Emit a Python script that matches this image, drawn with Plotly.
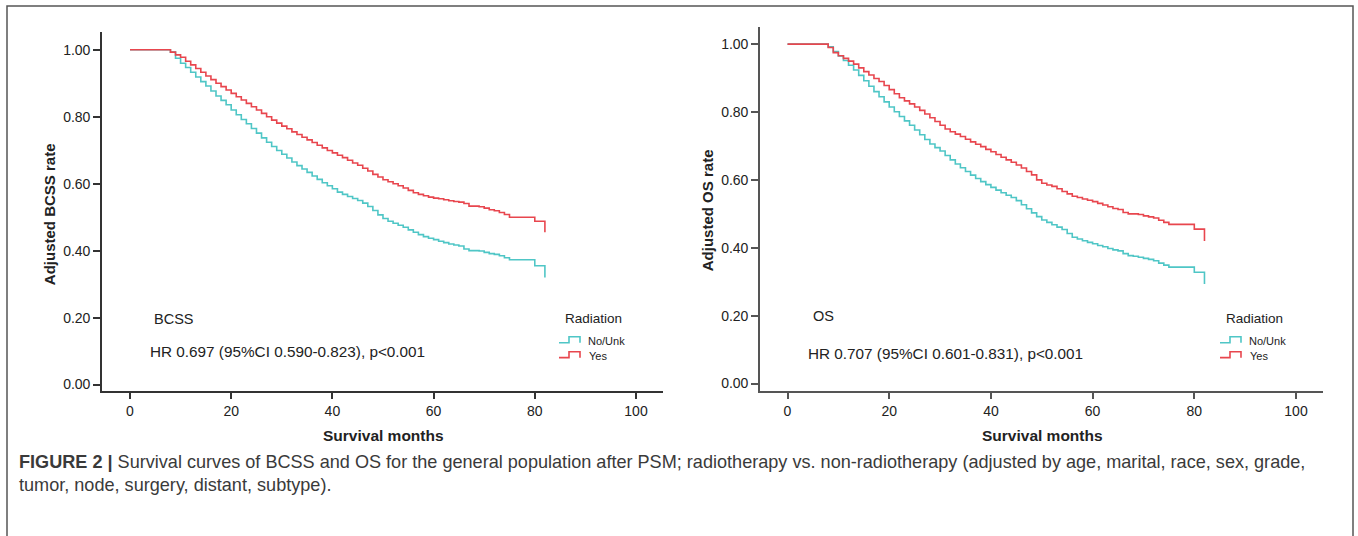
import plotly.graph_objects as go

W, H = 1358, 536

# ---- survival data (Kaplan-Meier style step curves) ----
months = [0] + list(range(7, 83))

bcss_no = [1.000, 1.000, 0.993, 0.975, 0.960, 0.947, 0.933, 0.919, 0.905, 0.892, 0.877,
           0.862, 0.849, 0.836, 0.820, 0.806, 0.792, 0.779, 0.765, 0.751, 0.737,
           0.724, 0.711, 0.699, 0.688, 0.677, 0.665, 0.654, 0.644, 0.634, 0.623,
           0.613, 0.603, 0.594, 0.585, 0.575, 0.568, 0.562, 0.556, 0.550, 0.542,
           0.532, 0.520, 0.507, 0.496, 0.488, 0.482, 0.476, 0.470, 0.462, 0.455,
           0.448, 0.442, 0.437, 0.433, 0.428, 0.424, 0.420, 0.417, 0.414, 0.405,
           0.400, 0.400, 0.399, 0.395, 0.391, 0.389, 0.385, 0.379, 0.373, 0.373,
           0.373, 0.373, 0.373, 0.355, 0.355, 0.320]

bcss_yes = [1.000, 1.000, 0.993, 0.985, 0.978, 0.966, 0.955, 0.944, 0.933, 0.922, 0.911,
            0.900, 0.890, 0.880, 0.870, 0.860, 0.850, 0.840, 0.830, 0.820, 0.810,
            0.800, 0.790, 0.781, 0.772, 0.764, 0.755, 0.747, 0.739, 0.731, 0.723,
            0.715, 0.707, 0.699, 0.692, 0.685, 0.678, 0.670, 0.662, 0.655, 0.646,
            0.638, 0.628, 0.620, 0.612, 0.606, 0.600, 0.594, 0.587, 0.580, 0.573,
            0.568, 0.564, 0.560, 0.557, 0.555, 0.552, 0.549, 0.547, 0.545, 0.541,
            0.533, 0.533, 0.531, 0.527, 0.522, 0.519, 0.514, 0.508, 0.500, 0.500,
            0.500, 0.500, 0.500, 0.488, 0.488, 0.455]

os_no = [1.000, 1.000, 0.992, 0.978, 0.965, 0.952, 0.938, 0.924, 0.908, 0.892, 0.876,
         0.860, 0.845, 0.830, 0.815, 0.801, 0.787, 0.774, 0.761, 0.747, 0.733,
         0.719, 0.706, 0.695, 0.685, 0.672, 0.659, 0.647, 0.636, 0.625, 0.614,
         0.604, 0.595, 0.586, 0.578, 0.570, 0.562, 0.555, 0.548, 0.539, 0.527,
         0.515, 0.503, 0.492, 0.482, 0.475, 0.468, 0.461, 0.454, 0.442, 0.431,
         0.426, 0.421, 0.416, 0.412, 0.407, 0.403, 0.398, 0.394, 0.391, 0.383,
         0.377, 0.375, 0.372, 0.369, 0.366, 0.362, 0.355, 0.349, 0.343, 0.343,
         0.343, 0.343, 0.343, 0.328, 0.328, 0.293]

os_yes = [1.000, 1.000, 0.990, 0.975, 0.966, 0.958, 0.950, 0.941, 0.930, 0.919, 0.909,
          0.899, 0.890, 0.878, 0.866, 0.854, 0.842, 0.833, 0.824, 0.815, 0.805,
          0.794, 0.783, 0.772, 0.761, 0.750, 0.742, 0.735, 0.728, 0.720, 0.712,
          0.705, 0.698, 0.690, 0.683, 0.675, 0.667, 0.659, 0.652, 0.644, 0.635,
          0.625, 0.615, 0.600, 0.590, 0.585, 0.581, 0.574, 0.566, 0.559, 0.552,
          0.548, 0.544, 0.540, 0.536, 0.531, 0.526, 0.521, 0.516, 0.513, 0.504,
          0.500, 0.500, 0.498, 0.494, 0.491, 0.488, 0.481, 0.475, 0.469, 0.469,
          0.469, 0.469, 0.469, 0.455, 0.455, 0.420]

x_ticks = [0, 20, 40, 60, 80, 100]
y_ticks = [0.0, 0.2, 0.4, 0.6, 0.8, 1.0]
group_labels = ["No/Unk", "Yes"]

C_NO = "#4fc6c6"
C_YES = "#e8464e"

SANS = "Liberation Sans, Arial, Helvetica, sans-serif"


def px(x):
    return x / W


def py(y):
    return 1 - y / H


fig = go.Figure()

panels = [
    dict(ax="", no=bcss_no, yes=bcss_yes),
    dict(ax="2", no=os_no, yes=os_yes),
]
for p in panels:
    for vals, col, name in [(p["no"], C_NO, group_labels[0]), (p["yes"], C_YES, group_labels[1])]:
        fig.add_trace(go.Scatter(
            x=months, y=vals, mode="lines", name=name,
            line=dict(color=col, width=1.6, shape="hv"),
            xaxis="x" + p["ax"], yaxis="y" + p["ax"], showlegend=False,
            hoverinfo="skip",
        ))

axis_common = dict(
    showgrid=False, zeroline=False, showline=True, linewidth=1.6,
    ticks="outside", ticklen=7, tickwidth=1.6,
    tickfont=dict(family=SANS, size=14, color="#222"),
)

fig.update_layout(
    width=W, height=H,
    margin=dict(l=0, r=0, t=0, b=0),
    paper_bgcolor="white", plot_bgcolor="white",
    xaxis=dict(domain=[px(102), px(663)], range=[-5.53, 105.34], anchor="y",
               tickvals=x_ticks, linecolor="#333", tickcolor="#333", **axis_common),
    yaxis=dict(domain=[py(392), py(32)], range=[-0.0179, 1.0536], anchor="x",
               tickvals=y_ticks, tickformat=".2f", linecolor="#333", tickcolor="#333",
               **axis_common),
    xaxis2=dict(domain=[px(760), px(1323)], range=[-5.41, 105.31], anchor="y2",
                tickvals=x_ticks, linecolor="#555", tickcolor="#555", **axis_common),
    yaxis2=dict(domain=[py(392), py(27)], range=[-0.0205, 1.0508], anchor="x2",
                tickvals=y_ticks, tickformat=".2f", linecolor="#555", tickcolor="#555",
                **axis_common),
)

ann = []


def text(x, y, s, size, family=SANS, bold=False, color="#222", xanchor="left", angle=0):
    ann.append(dict(
        x=px(x), y=py(y), xref="paper", yref="paper", text=("<b>%s</b>" % s) if bold else s,
        showarrow=False, xanchor=xanchor, yanchor="middle", textangle=angle,
        font=dict(family=family, size=size, color=color),
    ))


# axis titles
text(383, 437, "Survival months", 15.5, bold=True, xanchor="center")
text(1042, 437, "Survival months", 15.5, bold=True, xanchor="center")
text(49, 215, "Adjusted BCSS rate", 15, bold=True, xanchor="center", angle=-90)
text(707, 211, "Adjusted OS rate", 15, bold=True, xanchor="center", angle=-90)

# in-plot labels
text(152, 320, "BCSS", 14.5)
text(148, 353, "HR 0.697 (95%CI 0.590-0.823), p&lt;0.001", 15.3)
text(811, 317, "OS", 14.5)
text(806, 355, "HR 0.707 (95%CI 0.601-0.831), p&lt;0.001", 15.3)

# legends
shapes = []
for dx in (0, 661):
    text(563 + dx, 320, "Radiation", 13.5)
    text(586 + dx, 342, group_labels[0], 11)
    text(587 + dx, 357, group_labels[1], 11)
    for col, yb, yt in [(C_NO, 344, 338), (C_YES, 359, 353)]:
        pts = [(559 + dx, yb), (569 + dx, yb), (569 + dx, yt), (580 + dx, yt), (580 + dx, yb)]
        path = "M " + " L ".join("%.5f,%.5f" % (px(a), py(b)) for a, b in pts)
        shapes.append(dict(type="path", xref="paper", yref="paper", path=path,
                           line=dict(color=col, width=1.6)))

# caption
ann.append(dict(
    x=px(17), y=py(464), xref="paper", yref="paper", showarrow=False,
    xanchor="left", yanchor="middle",
    text="<b>FIGURE 2 |</b> Survival curves of BCSS and OS for the general population after PSM; "
         "radiotherapy vs. non-radiotherapy (adjusted by age, marital, race, sex, grade,",
    font=dict(family=SANS, size=18.1, color="#3a3a3a"),
))
ann.append(dict(
    x=px(17), y=py(487), xref="paper", yref="paper", showarrow=False,
    xanchor="left", yanchor="middle",
    text="tumor, node, surgery, distant, subtype).",
    font=dict(family=SANS, size=18.1, color="#3a3a3a"),
))

# outer frame
shapes.append(dict(type="rect", xref="paper", yref="paper",
                   x0=px(7), x1=px(1353), y0=-0.05, y1=py(6),
                   line=dict(color="#555", width=1.5)))

fig.update_layout(annotations=ann, shapes=shapes)

fig.write_html("out.html")
